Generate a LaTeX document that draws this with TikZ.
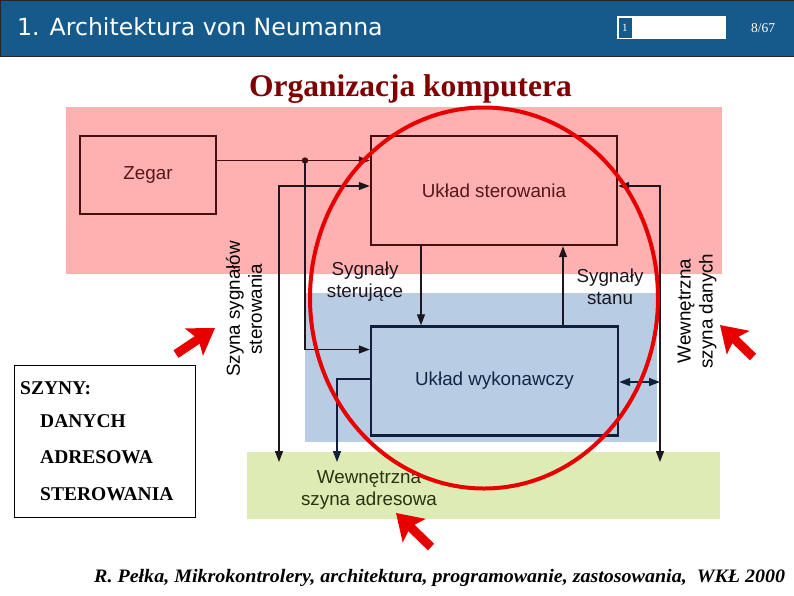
\documentclass[tikz,border=0pt]{standalone}
\usepackage{fontspec}
\usepackage{graphicx}
\setmainfont{Liberation Serif}
\setsansfont{Liberation Sans}
\newfontfamily\hdrfont{DejaVu Sans}
\usetikzlibrary{arrows.meta}
\definecolor{hdrblue}{RGB}{22,90,140}
\definecolor{pinkbg}{RGB}{255,177,177}
\definecolor{bluebg}{RGB}{184,205,228}
\definecolor{greenbg}{RGB}{222,235,181}
\definecolor{lnmaroon}{RGB}{70,14,14}
\definecolor{lnnavy}{RGB}{14,32,60}
\definecolor{lndark}{RGB}{30,22,30}
\definecolor{txmaroon}{RGB}{85,22,22}
\definecolor{txnavy}{RGB}{18,38,70}
\definecolor{txolive}{RGB}{40,52,18}
\definecolor{titlered}{RGB}{128,0,0}
\definecolor{ringred}{RGB}{232,0,0}
\begin{document}
\begin{tikzpicture}[x=1pt,y=-1pt,
  blk/.style={draw=lnmaroon, line width=2.4pt, inner sep=0pt},
  lbl/.style={font=\sffamily\fontsize{18.8}{22}\selectfont, align=center},
  conn/.style={line width=1.3pt},
  tip/.style={-{Triangle[length=11pt,width=8pt]}},
  bothtip/.style={{Triangle[length=11pt,width=8pt]}-{Triangle[length=11pt,width=8pt]}},
  bigarrow/.style={draw=ringred, line width=9pt, -{Stealth[length=25pt,width=32pt,inset=5pt]}},
  legtxt/.style={anchor=base west, font=\bfseries\fontsize{19.5}{22}\selectfont, inner sep=0pt}
]
\useasboundingbox (0,0) rectangle (794,595);
\fill[white] (0,0) rectangle (794,595);

% header
\node[fill=hdrblue, draw=black!85, line width=1pt, minimum width=794pt, minimum height=56pt, anchor=north west, inner sep=0pt] (header) at (0,0) {};
\node[anchor=base west, inner sep=0pt, text=white, font=\hdrfont\fontsize{23.6}{27}\selectfont] (htitle) at (17,35.5) {1. Architektura von Neumanna};
\node[fill=white, minimum width=109pt, minimum height=23pt, anchor=north west, inner sep=0pt] (navbox) at (617,16) {};
\node[fill=hdrblue, draw=white, line width=0.8pt, minimum width=14pt, minimum height=21pt, anchor=north west, inner sep=0pt, text=white, font=\fontsize{11}{13}\selectfont] (navcur) at (617.5,17) {1};
\node[anchor=base west, inner sep=0pt, text=white, font=\fontsize{13.5}{15}\selectfont] (pageno) at (751,32.5) {8/67};

% title
\node[anchor=base, inner sep=0pt, text=titlered, font=\bfseries\fontsize{31.5}{36}\selectfont] (title) at (410.5,96) {Organizacja komputera};

% background regions
\fill[pinkbg] (66,107) rectangle (722,274);
\fill[bluebg] (305,293) rectangle (657,442);
\fill[greenbg] (247,452) rectangle (720,519);

% blocks
\node[blk, minimum width=136pt, minimum height=78pt, lbl, text=txmaroon] (zegar) at (148,175) {Zegar};
\node[blk, minimum width=246pt, minimum height=109pt, lbl, text=txmaroon] (ster) at (494,190.5) {Układ sterowania};
\node[blk, draw=lnnavy, minimum width=247pt, minimum height=109pt, lbl, text=txnavy] (wyk) at (494.5,381) {Układ wykonawczy};

% junction and bus end points
\coordinate (jz) at (305,160.5);
\coordinate (cbus) at (279,462);
\coordinate (abus) at (337,462);
\coordinate (dbus) at (660,462);
\coordinate (dbj) at (660,382);
\fill[lnmaroon] (jz) circle (3.2pt);

% connectors
\draw[conn, tip, lnmaroon] (zegar.east |- jz) -- (ster.west |- jz);
\draw[conn, tip, lndark] (jz) |- (wyk.west |- 0,349.5);
\draw[conn, bothtip, lndark] (cbus) |- (ster.west |- 0,186);
\draw[conn, tip, lnnavy] (wyk.west |- 0,379) -| (abus);
\draw[conn, tip, lndark] (ster.south -| 421,0) -- (wyk.north -| 421,0);
\draw[conn, tip, lndark] (wyk.north -| 563,0) -- (ster.south -| 563,0);
\draw[conn, bothtip, lndark] (ster.east |- 0,186) -| (dbus);
\draw[conn, bothtip, lnnavy] (wyk.east |- dbj) -- (dbj);

% labels
\node[lbl, text=lndark] (sygst) at (365,282) {Sygnały\\sterujące};
\node[lbl, text=lndark] (sygsn) at (610,287) {Sygnały\\stanu};
\node[lbl, text=black, rotate=90] (szster) at (244,309) {Szyna sygnałów\\sterowania};
\node[lbl, text=black, rotate=90] (szdan) at (697,311) {Wewnętrzna\\szyna danych};
\node[lbl, text=txolive] (szadr) at (369,490) {Wewnętrzna\\szyna adresowa};

% legend
\node[draw=black, line width=0.8pt, fill=white, minimum width=181pt, minimum height=152pt, anchor=north west, inner sep=0pt] (legend) at (14,365) {};
\node[legtxt] (lg1) at (20,394) {SZYNY:};
\node[legtxt] (lg2) at (40,427) {DANYCH};
\node[legtxt] (lg3) at (40,463) {ADRESOWA};
\node[legtxt] (lg4) at (40,500) {STEROWANIA};

% red ring
\draw[ringred, line width=4pt] (484,298) ellipse [x radius=174pt, y radius=190.5pt];

% red arrows
\coordinate (a1s) at (176,354);
\coordinate (a1e) at (215,328);
\coordinate (a2s) at (753,357);
\coordinate (a2e) at (720,325);
\coordinate (a3s) at (431,547);
\coordinate (a3e) at (396,513);
\draw[bigarrow] (a1s) -- (a1e);
\draw[bigarrow] (a2s) -- (a2e);
\draw[bigarrow] (a3s) -- (a3e);

% citation
\node[anchor=base west, inner sep=0pt] (cite) at (94,582) {\resizebox{691pt}{\height}{\bfseries\itshape\fontsize{19}{22}\selectfont R. Pełka, Mikrokontrolery, architektura, programowanie, zastosowania,\ \ WKŁ 2000}};
\end{tikzpicture}
\end{document}
